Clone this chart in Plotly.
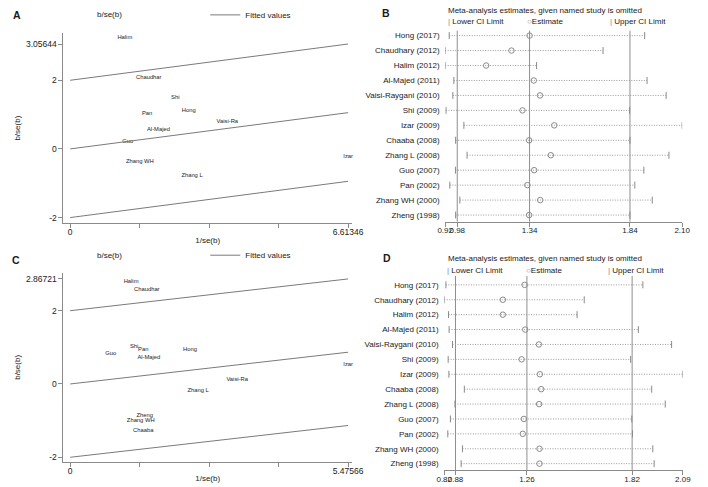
import plotly.graph_objects as go

W, H = 708, 487
FONT = "Liberation Sans, Arial, sans-serif"
AXC = "#8a8a8a"
TXT = "#1a1a1a"

# ---------------- Panel A : Galbraith plot ----------------
galA_labels = ["Halim", "Chaudhar", "Shi", "Hong", "Pan", "Vaisi-Ra", "Al-Majed",
               "Guo", "Zhang WH", "Zhang L", "Izar"]
galA_x = [1.30, 1.87, 2.50, 2.82, 1.83, 3.74, 2.10, 1.37, 1.66, 2.90, 6.61346]
galA_y = [3.25, 2.08, 1.51, 1.11, 1.02, 0.79, 0.56, 0.21, -0.36, -0.78, -0.21]
fitA_x = [0, 6.61346]
fitA_upper = [2, 3.05644]
fitA_mid = [0, 1.05644]
fitA_lower = [-2, -0.94356]
A_yticks = [-2, 0, 2, 3.05644]
A_xmax_label = "6.61346"

# ---------------- Panel C : Galbraith plot ----------------
galC_labels = ["Halim", "Chaudhar", "Shi", "Pan", "Guo", "Al-Majed", "Hong",
               "Vaisi-Ra", "Zhang L", "Zheng", "Zhang WH", "Chaaba", "Izar"]
galC_x = [1.20, 1.51, 1.26, 1.44, 0.80, 1.55, 2.36, 3.29, 2.52, 1.47, 1.39, 1.44, 5.47566]
galC_y = [2.79, 2.57, 1.02, 0.95, 0.84, 0.72, 0.95, 0.13, -0.17, -0.86, -1.01, -1.28, 0.52]
fitC_x = [0, 5.47566]
fitC_upper = [2, 2.86721]
fitC_mid = [0, 0.86721]
fitC_lower = [-2, -1.13279]
C_yticks = [-2, 0, 2, 2.86721]
C_xmax_label = "5.47566"

# ---------------- Panels B / D : leave-one-out sensitivity ----------------
studies = ["Hong (2017)", "Chaudhary (2012)", "Halim (2012)", "Al-Majed (2011)",
           "Vaisi-Raygani (2010)", "Shi (2009)", "Izar (2009)", "Chaaba (2008)",
           "Zhang L (2008)", "Guo (2007)", "Pan (2002)", "Zhang WH (2000)", "Zheng (1998)"]

B_lower = [0.94, 0.92, 0.92, 0.963, 0.958, 0.924, 1.013, 0.972, 1.029, 0.971, 0.943, 0.993, 0.972]
B_est = [1.34, 1.25, 1.124, 1.361, 1.392, 1.305, 1.463, 1.338, 1.446, 1.363, 1.329, 1.393, 1.338]
B_upper = [1.913, 1.706, 1.375, 1.925, 2.02, 1.838, 2.10, 1.84, 2.034, 1.909, 1.864, 1.951, 1.84]
B_overall = [0.98, 1.34, 1.84]
B_axis = [0.92, 2.10]

D_lower = [0.829, 0.82, 0.843, 0.846, 0.864, 0.841, 0.845, 0.927, 0.877, 0.853, 0.839, 0.917, 0.910]
D_est = [1.248, 1.132, 1.132, 1.251, 1.324, 1.232, 1.329, 1.336, 1.325, 1.244, 1.238, 1.327, 1.327]
D_upper = [1.877, 1.565, 1.527, 1.853, 2.03, 1.812, 2.09, 1.924, 1.996, 1.818, 1.822, 1.93, 1.937]
D_overall = [0.88, 1.26, 1.82]
D_axis = [0.82, 2.09]

legend_title = "Meta-analysis estimates, given named study is omitted"


def fx(p):
    return p / W


def fy(p):
    return 1 - p / H


fig = go.Figure()


def galbraith(xs, ys, labels, fx_, up, mid, lo, xa, ya, leg):
    fig.add_trace(go.Scatter(
        x=xs, y=ys, text=labels, mode="text", textposition="middle center",
        textfont=dict(size=5.8, color=TXT, family=FONT), cliponaxis=False,
        showlegend=False, xaxis=xa, yaxis=ya, hoverinfo="skip"))
    lx, ly = [], []
    for line in (up, mid, lo):
        lx += list(fx_) + [None]
        ly += list(line) + [None]
    fig.add_trace(go.Scatter(
        x=lx, y=ly, mode="lines", line=dict(color="#7a7a7a", width=1),
        name="Fitted values", xaxis=xa, yaxis=ya, legend=leg, showlegend=True))


def forest(lo, est, up, xa, ya):
    lx, ly = [], []
    for s, a, b in zip(studies, lo, up):
        lx += [a, b, None]
        ly += [s, s, None]
    fig.add_trace(go.Scatter(x=lx, y=ly, mode="lines",
                             line=dict(color="#9a9a9a", width=1, dash="1px,1.5px"),
                             xaxis=xa, yaxis=ya, showlegend=False, hoverinfo="skip"))
    for vals in (lo, up):
        fig.add_trace(go.Scatter(x=vals, y=studies, mode="markers",
                                 marker=dict(symbol="line-ns-open", size=5, color="#8a8a8a",
                                             line=dict(color="#8a8a8a", width=1)),
                                 xaxis=xa, yaxis=ya, showlegend=False))
    fig.add_trace(go.Scatter(x=est, y=studies, mode="markers",
                             marker=dict(symbol="circle-open", size=5.5, color="#8a8a8a",
                                         line=dict(color="#8a8a8a", width=1)),
                             xaxis=xa, yaxis=ya, showlegend=False))


galbraith(galA_x, galA_y, galA_labels, fitA_x, fitA_upper, fitA_mid, fitA_lower, "x", "y", "legend")
forest(B_lower, B_est, B_upper, "x2", "y2")
galbraith(galC_x, galC_y, galC_labels, fitC_x, fitC_upper, fitC_mid, fitC_lower, "x3", "y3", "legend3")
forest(D_lower, D_est, D_upper, "x4", "y4")

# reference lines in forest panels
for vals, xr, yr in ((B_overall, "x2", "y2 domain"), (D_overall, "x4", "y4 domain")):
    for v in vals:
        fig.add_shape(type="line", xref=xr, yref=yr, x0=v, x1=v, y0=0, y1=1,
                      line=dict(color="#8f8f8f", width=1), layer="below")

tickfont = dict(family=FONT, size=8.5, color=TXT)
tickfont_s = dict(family=FONT, size=8, color=TXT)
titlefont = dict(family=FONT, size=8, color=TXT)


def gal_axes(xmax, xmax_label, yticks, px_top, px_bot, y0_px, ppu):
    upx = xmax / 286.0
    xr = [-7 * upx, xmax + 4 * upx]
    yr = [(y0_px - px_bot) / ppu, (y0_px - px_top) / ppu]
    xa = dict(domain=[fx(57), fx(354)], range=xr, showline=True, linecolor=AXC, linewidth=1,
              ticks="outside", ticklen=4, tickcolor=AXC, ticklabelstandoff=-3,
              tickvals=[xmax * k / 4 for k in range(5)],
              ticktext=["0", "", "", "", xmax_label], tickangle=0,
              showgrid=False, zeroline=False, tickfont=tickfont,
              title=dict(text="1/se(b)", font=titlefont, standoff=0))
    ya = dict(domain=[fy(px_bot), fy(px_top)], range=yr, showline=True, linecolor=AXC,
              linewidth=1, ticks="outside", ticklen=4, tickcolor=AXC,
              tickvals=yticks, ticktext=[("%g" % v) if v in (-2, 0, 2) else str(v) for v in yticks],
              showgrid=False, zeroline=False, tickfont=tickfont,
              title=dict(text="b/se(b)", font=titlefont, standoff=4))
    return xa, ya


def forest_axes(axis, overall, dom_l, dom_r, px_top, px_bot, top_idx, bot_idx):
    tv = [axis[0]] + list(overall) + [axis[1]]
    xa = dict(domain=[fx(dom_l), fx(dom_r)], range=list(axis), showline=True, linecolor=AXC,
              linewidth=1, ticks="outside", ticklen=4, tickcolor=AXC, ticklabelstandoff=-3,
              tickvals=tv, ticktext=["%.2f" % v for v in tv], tickangle=0,
              showgrid=False, zeroline=False, tickfont=tickfont_s)
    ya = dict(domain=[fy(px_bot), fy(px_top)], type="category", categoryorder="array",
              categoryarray=studies, range=[bot_idx, top_idx], showline=False,
              ticks="outside", ticklen=3, tickcolor="rgba(0,0,0,0)",
              showgrid=False, zeroline=False, tickfont=tickfont_s)
    return xa, ya


xa1, ya1 = gal_axes(fitA_x[1], A_xmax_label, A_yticks, 27.3, 220, 144.7, 34.75)
xa3, ya3 = gal_axes(fitC_x[1], C_xmax_label, C_yticks, 270, 461.7, 382.7, 37.1)
xa2, ya2 = forest_axes(B_axis, B_overall, 449.9, 693.8, 25, 218.3, -0.33, 12.44)
xa4, ya4 = forest_axes(D_axis, D_overall, 448.9, 694.5, 273.3, 470, -0.6, 12.44)

xa1["anchor"] = "y"; ya1["anchor"] = "x"
xa2["anchor"] = "y2"; ya2["anchor"] = "x2"
xa3["anchor"] = "y3"; ya3["anchor"] = "x3"
xa4["anchor"] = "y4"; ya4["anchor"] = "x4"

leg_common = dict(orientation="h", xanchor="left", yanchor="middle",
                  bgcolor="rgba(0,0,0,0)", borderwidth=0,
                  font=dict(family=FONT, size=8, color=TXT), itemwidth=30)

ann = []


def txt(x, y, s, size=8, bold=False, xanchor="left"):
    ann.append(dict(x=fx(x), y=fy(y), xref="paper", yref="paper", text=("<b>%s</b>" % s) if bold else s,
                    showarrow=False, xanchor=xanchor, yanchor="middle",
                    font=dict(family=FONT, size=size, color=TXT)))


# panel letters
txt(3.5, 9.5, "A", 10.5, True)
txt(383, 7, "B", 10.5, True)
txt(2, 257, "C", 10.5, True)
txt(384, 255.5, "D", 10.5, True)
# key text for the label scatter (no symbol in the key)
txt(104.5, 9, "b/se(b)", 8, xanchor="center")
txt(104.5, 252.3, "b/se(b)", 8, xanchor="center")

# forest legends
bar = '<span style="color:#8a8a8a">|</span> '
circ = '<span style="color:#8a8a8a">○</span>'
for ytitle, yitems, xs in ((5, 15.7, (450.5, 532, 617)), (255.7, 267.7, (449.7, 531.3, 615.7))):
    txt(450.5, ytitle, legend_title, 8)
    txt(xs[0], yitems, bar + "Lower CI Limit", 8)
    txt(xs[1], yitems, circ + "Estimate", 8)
    txt(xs[2], yitems, bar + "Upper CI Limit", 8)

fig.update_layout(
    width=W, height=H, margin=dict(l=0, r=0, t=0, b=0),
    paper_bgcolor="white", plot_bgcolor="white",
    font=dict(family=FONT, size=8, color=TXT),
    xaxis=xa1, yaxis=ya1, xaxis2=xa2, yaxis2=ya2,
    xaxis3=xa3, yaxis3=ya3, xaxis4=xa4, yaxis4=ya4,
    legend=dict(x=fx(203), y=fy(9), **leg_common),
    legend3=dict(x=fx(203), y=fy(252.3), **leg_common),
    annotations=ann,
)

fig.write_html("out.html", config={"displayModeBar": False, "responsive": False},
               post_script="document.body.style.margin='0';document.body.style.overflow='hidden';")
